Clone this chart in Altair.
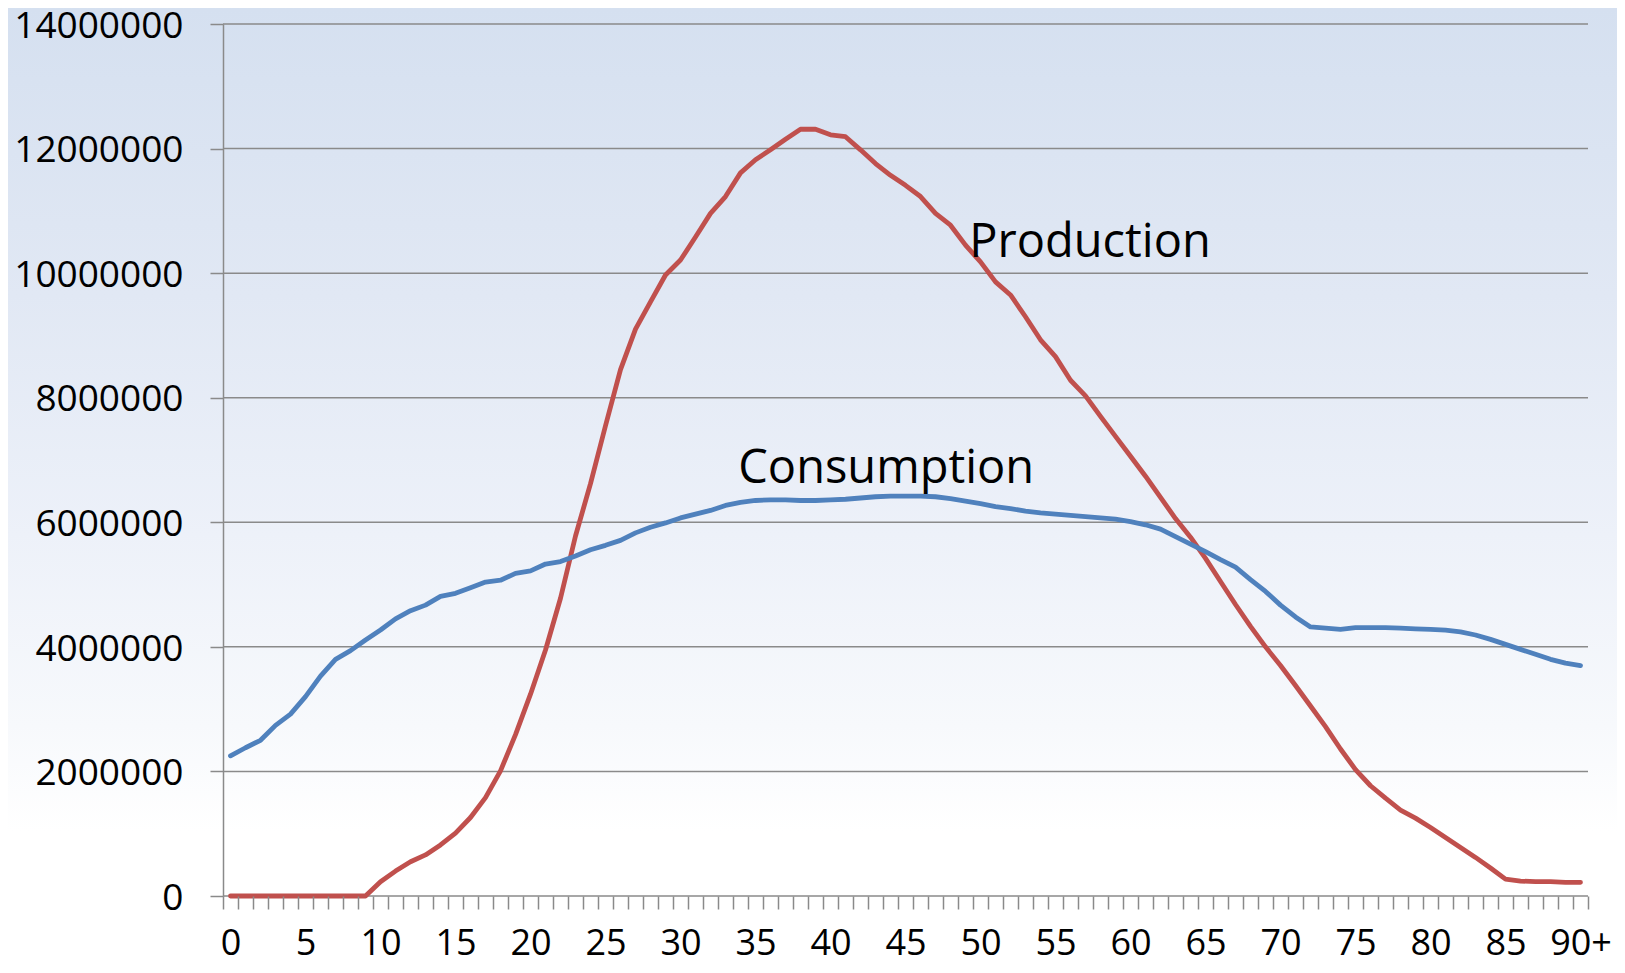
import altair as alt
import pandas as pd

# ---- data ----
ages = list(range(0, 91))  # 90 stands for "90+"

consumption = [
    2250000, 2380000, 2500000, 2740000, 2920000, 3200000, 3530000, 3800000, 3940000, 4110000,
    4270000, 4450000, 4580000, 4670000, 4810000, 4860000, 4950000, 5040000, 5070000, 5180000,
    5220000, 5330000, 5370000, 5460000, 5560000, 5630000, 5710000, 5830000, 5920000, 5990000,
    6070000, 6130000, 6190000, 6270000, 6320000, 6350000, 6360000, 6360000, 6350000, 6350000,
    6360000, 6370000, 6390000, 6410000, 6420000, 6420000, 6420000, 6410000, 6380000, 6340000,
    6300000, 6250000, 6220000, 6180000, 6150000, 6130000, 6110000, 6090000, 6070000, 6050000,
    6010000, 5960000, 5890000, 5770000, 5650000, 5530000, 5400000, 5280000, 5080000, 4890000,
    4670000, 4480000, 4320000, 4300000, 4280000, 4310000, 4310000, 4310000, 4300000, 4290000,
    4280000, 4270000, 4240000, 4190000, 4120000, 4040000, 3960000, 3880000, 3800000, 3740000,
    3700000,
]

production = [
    0, 0, 0, 0, 0, 0, 0, 0, 0, 0,
    230000, 400000, 550000, 660000, 820000, 1010000, 1260000, 1580000, 2010000, 2590000,
    3240000, 3950000, 4780000, 5780000, 6620000, 7550000, 8450000, 9100000, 9540000, 9970000,
    10210000, 10580000, 10960000, 11230000, 11610000, 11820000, 11980000, 12150000, 12310000, 12310000,
    12220000, 12190000, 11980000, 11760000, 11570000, 11410000, 11230000, 10960000, 10770000, 10450000,
    10180000, 9860000, 9650000, 9300000, 8930000, 8660000, 8280000, 8030000, 7700000, 7380000,
    7060000, 6740000, 6400000, 6060000, 5760000, 5420000, 5050000, 4680000, 4330000, 4000000,
    3700000, 3380000, 3050000, 2720000, 2360000, 2030000, 1770000, 1570000, 1380000, 1250000,
    1100000, 940000, 780000, 620000, 450000, 270000, 240000, 230000, 230000, 220000,
    220000,
]

y_ticks = [0, 2000000, 4000000, 6000000, 8000000, 10000000, 12000000, 14000000]

label_names = ["Production", "Consumption"]
label_age = [49.25, 33.85]
label_value = [10260000, 6630000]

series_names = ["Production", "Consumption"]
series_colors = ["#C0504D", "#4F81BD"]

# ---- tables ----
lines_df = pd.concat([
    pd.DataFrame({"age": ages, "value": production, "series": "Production"}),
    pd.DataFrame({"age": ages, "value": consumption, "series": "Consumption"}),
])
grid_df = pd.DataFrame({"value": y_ticks})
labels_df = pd.DataFrame({"name": label_names, "age": label_age, "value": label_value})
bg_df = pd.DataFrame({"k": [0]})

W, H = 1365, 872
PAD = {"left": 215, "top": 16, "right": 29, "bottom": 69}
FONT = "Open Sans"
GRAY = "#8a8a8a"
Y_LABEL_SIZE = 37

x_scale = alt.Scale(domain=[-0.5, 90.5], nice=False, zero=False)
y_scale = alt.Scale(domain=[0, 14000000], nice=False)

x_axis = alt.Axis(
    values=[a - 0.5 for a in ages] + [90.5],
    labelExpr="(datum.value + 0.5) % 5 == 0 ? ((datum.value + 0.5) == 90 ? '90+' : format(datum.value + 0.5, 'd')) : ''",
    labelOffset=W / 91 / 2,
    labelFont=FONT, labelFontSize=36, labelColor="#000000",
    labelPadding=17, labelOverlap=False, labelFlush=False, labelBound=False,
    tickSize=13, tickColor=GRAY, tickWidth=1.5,
    domain=False, grid=False, title=None, zindex=1,
)
y_axis = alt.Axis(
    values=y_ticks, format="d",
    labelFont=FONT, labelFontSize=Y_LABEL_SIZE, labelColor="#000000",
    labelBaseline="alphabetic", labelOffset=round(0.714 * Y_LABEL_SIZE / 2, 1),
    labelPadding=27, labelOverlap=False,
    tickSize=13, tickColor=GRAY, tickWidth=1.5,
    domain=True, domainColor=GRAY, domainWidth=1.5,
    grid=False, title=None, zindex=1,
)

bg = alt.Chart(bg_df).mark_rect(
    color=alt.Gradient(
        gradient="linear", x1=0, x2=0, y1=0, y2=1,
        stops=[
            alt.GradientStop(offset=0.0, color="#d5e0f0"),
            alt.GradientStop(offset=0.3, color="#e1e8f4"),
            alt.GradientStop(offset=0.55, color="#edf1f9"),
            alt.GradientStop(offset=0.75, color="#f7f9fc"),
            alt.GradientStop(offset=0.86, color="#ffffff"),
            alt.GradientStop(offset=1.0, color="#ffffff"),
        ],
    )
).encode(
    x=alt.value(-PAD["left"]), x2=alt.value(W + PAD["right"]),
    y=alt.value(-PAD["top"]), y2=alt.value(H + PAD["bottom"]),
)

grid = alt.Chart(grid_df).mark_rule(color=GRAY, strokeWidth=1.5).encode(
    y=alt.Y("value:Q", scale=y_scale, axis=y_axis),
    x=alt.value(0), x2=alt.value(W),
)

lines = alt.Chart(lines_df).mark_line(strokeWidth=4.8, strokeJoin="round", strokeCap="round").encode(
    x=alt.X("age:Q", scale=x_scale, axis=x_axis),
    y=alt.Y("value:Q", scale=y_scale, axis=y_axis),
    color=alt.Color("series:N", scale=alt.Scale(domain=series_names, range=series_colors), legend=None),
    detail="series:N",
)

texts = alt.Chart(labels_df).mark_text(
    align="left", baseline="alphabetic", font=FONT, fontSize=47, color="#000000"
).encode(
    x=alt.X("age:Q", scale=x_scale, axis=x_axis),
    y=alt.Y("value:Q", scale=y_scale, axis=y_axis),
    text="name:N",
)

chart = alt.layer(bg, grid, lines, texts).properties(
    width=W, height=H,
    autosize=alt.AutoSizeParams(type="none"),
    padding=PAD,
).configure_view(stroke=None)

chart.save("out.html", embed_options={"renderer": "svg", "actions": False})
